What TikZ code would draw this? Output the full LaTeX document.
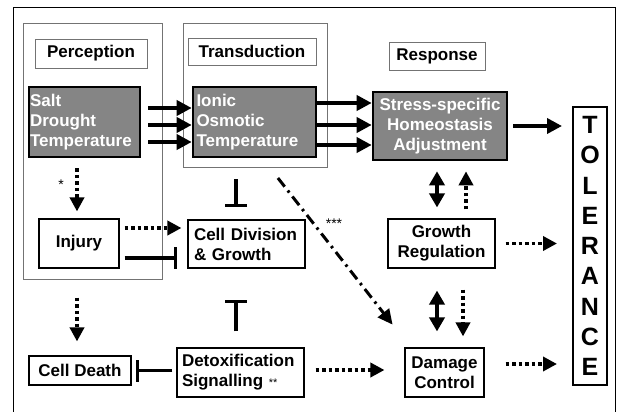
\documentclass[tikz,border=0pt]{standalone}
\usepackage{fontspec}
\setmainfont{Liberation Sans}
\usetikzlibrary{arrows.meta,calc}
\tikzset{
	boxtext/.style = {font=\fontsize{17}{20}\selectfont\bfseries, inner sep=0pt},
	stagebox/.style = {boxtext, draw=black, line width=2.6pt, fill=black!48, text=white},
	procbox/.style = {boxtext, draw=black, line width=1.1pt, fill=white},
	headbox/.style = {boxtext, draw=black!55, line width=0.7pt, align=center},
	groupbox/.style = {draw=black!55, line width=0.7pt},
	tolbox/.style = {draw=black, line width=2pt, inner sep=0pt, align=center,
		font=\fontsize{25}{30.3}\selectfont\bfseries},
	starmark/.style = {font=\fontsize{14}{14}\selectfont, inner sep=0pt},
	flow/.style = {line width=3.6pt, -{Triangle[width=15pt,length=15pt]}},
	twoway/.style = {line width=3.6pt, {Triangle[width=15pt,length=14pt]}-{Triangle[width=15pt,length=14pt]}},
	dotflow/.style = {line width=3.6pt, dash pattern=on 3.5pt off 3pt, -{Triangle[width=14pt,length=14pt]}},
	dashdot/.style = {line width=3pt, dash pattern=on 11pt off 5pt on 2.5pt off 5pt, -{Triangle[width=14pt,length=15pt]}},
	block/.style = {line width=3.4pt, -{Bar[width=22pt,line width=3.6pt]}}
}
\begin{document}
\begin{tikzpicture}[x=1pt, y=-1pt]
\useasboundingbox (0,0) rectangle (618,412);
\draw [line width=0.9pt] (13,412) -- (13,7) -- (615,7) -- (615,412);
\draw [groupbox] (23,23) rectangle (162,279);
\draw [groupbox] (183,23) rectangle (327,167);

\node [headbox, minimum width=112pt, minimum height=29pt] (percep) at (91,53.5) {Perception};
\node [headbox, minimum width=128pt, minimum height=27pt] (transd) at (252,51.5) {Transduction};
\node [headbox, minimum width=96pt, minimum height=28pt] (resp) at (437,56) {Response};

\node [stagebox, align=left, text width=109pt, inner xsep=1pt, minimum height=70pt] (salt) at (84.5,122)
	{Salt\\Drought\\Temperature};
\node [stagebox, align=left, text width=116pt, inner xsep=3.5pt, minimum height=70pt] (ionic) at (254.5,122)
	{Ionic\\Osmotic\\Temperature};
\node [stagebox, align=center, minimum width=134pt, minimum height=68pt] (stress) at (440,126)
	{Stress-specific\\Homeostasis\\Adjustment};
\node [tolbox, minimum width=34pt, minimum height=278pt] (tol) at (590,246)
	{T\\O\\L\\E\\R\\A\\N\\C\\E};

\node [procbox, align=center, minimum width=80pt, minimum height=49pt] (injury) at (79,243.5) {Injury};
\node [procbox, align=left, text width=105pt, inner xsep=6pt, minimum height=48pt] (celldiv) at (246.5,244)
	{Cell Division\\\& Growth};
\node [procbox, align=center, minimum width=102pt, minimum height=29pt] (death) at (80,370.5) {Cell Death};
\node [procbox, align=left, text width=117pt, inner xsep=5pt, minimum height=49pt] (detox) at (240.5,372.5)
	{Detoxification\\Signalling {\fontsize{11}{11}\selectfont\mdseries **}};
\node [procbox, align=center, minimum width=107pt, minimum height=49pt] (growth) at (441.5,243.5)
	{Growth\\Regulation};
\node [procbox, align=center, minimum width=79pt, minimum height=49pt] (damage) at (444.5,372.5)
	{Damage\\Control};

\node [starmark] (star1) at (61,185) {*};
\node [starmark] (star3) at (334,224) {***};

\foreach \dy in {14,-3,-20}
	\draw [flow, shorten <=7pt] ([yshift=\dy pt]salt.east) -- ([yshift=\dy pt]ionic.west);
\foreach \dy in {19,-3,-23}
	\draw [flow] ([yshift=\dy pt]ionic.east) -- ([yshift=\dy pt]ionic.east -| stress.west);
\draw [flow, shorten <=5pt, shorten >=10pt] (stress.east) -- (stress.east -| tol.west);

\draw [dotflow, shorten <=10pt, shorten >=7pt] ([xshift=-2pt]injury.north |- salt.south) -- ([xshift=-2pt]injury.north);
\draw [dotflow, shorten <=5pt, shorten >=6pt] ([yshift=15.5pt]injury.east) -- ([yshift=15.5pt]injury.east -| celldiv.west);
\draw [block, shorten <=5pt, shorten >=10pt] ([yshift=-14.5pt]injury.east) -- ([yshift=-14.5pt]injury.east -| celldiv.west);
\draw [block, shorten <=21pt, shorten >=12pt] ([xshift=-10.5pt]celldiv.north |- ionic.south) -- ([xshift=-10.5pt]celldiv.north);
\draw [block, shorten <=16pt, shorten >=31pt] ([xshift=-4.5pt]detox.north) -- ([xshift=-4.5pt]detox.north |- celldiv.south);
\draw [block, shorten <=4pt, shorten >=4pt] ([yshift=2pt]detox.west) -- ([yshift=2pt]detox.west -| death.east);
\draw [dotflow, shorten <=29pt, shorten >=14pt] ([xshift=-2pt]injury.south) -- ([xshift=-2pt]injury.south |- death.north);

\draw [dashdot, shorten <=25pt, shorten >=29pt] ([xshift=8pt]ionic.south) -- ([xshift=6pt]damage.north west);
\draw [dotflow, shorten <=11pt, shorten >=20pt] ([yshift=2.5pt]detox.east) -- ([yshift=2.5pt]detox.east -| damage.west);

\draw [twoway, shorten <=11pt, shorten >=10pt] ([xshift=-4.5pt]growth.north) -- ([xshift=-4.5pt]growth.north |- stress.south);
\draw [dotflow, shorten <=9pt, shorten >=10pt] ([xshift=24.5pt]growth.north) -- ([xshift=24.5pt]growth.north |- stress.south);
\draw [twoway, shorten <=22pt, shorten >=16pt] ([xshift=-4.5pt]growth.south) -- ([xshift=-4.5pt]growth.south |- damage.north);
\draw [dotflow, shorten <=21pt, shorten >=11pt] ([xshift=21.5pt]growth.south) -- ([xshift=21.5pt]growth.south |- damage.north);

\draw [dotflow, shorten <=10pt, shorten >=15pt] (growth.east) -- (growth.east -| tol.west);
\draw [dotflow, shorten <=21pt, shorten >=15pt] ([yshift=8.5pt]damage.east) -- ([yshift=8.5pt]damage.east -| tol.west);
\end{tikzpicture}
\end{document}
